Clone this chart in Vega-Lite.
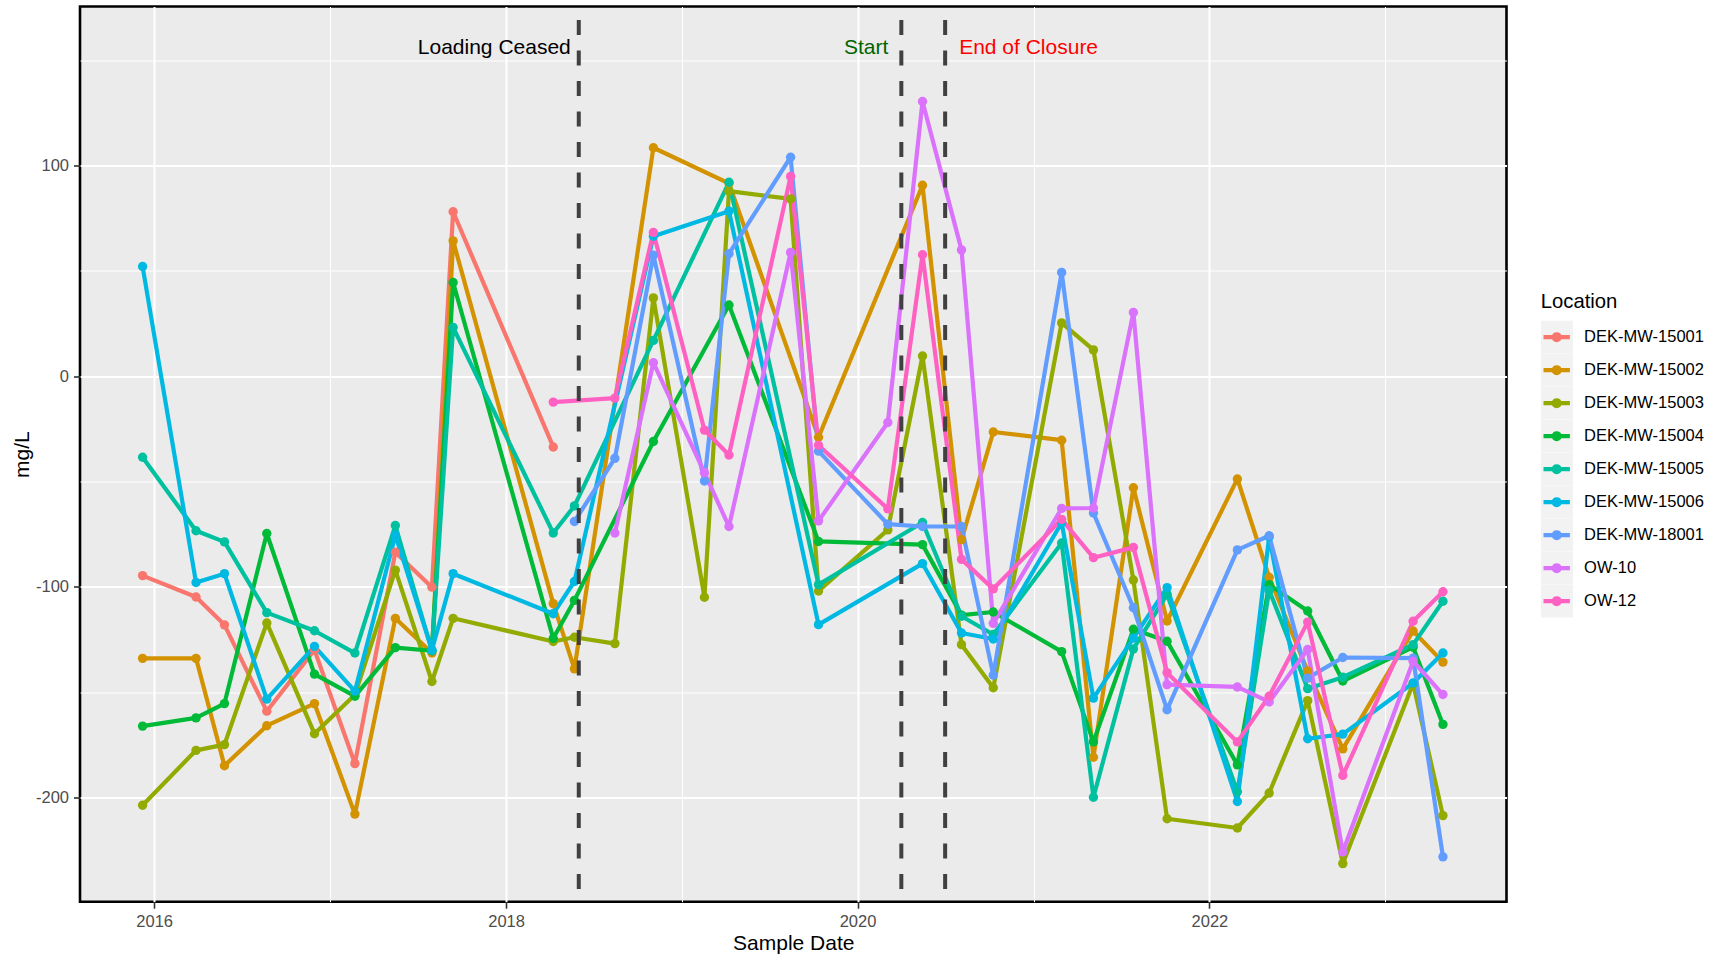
{
  "$schema": "https://vega.github.io/schema/vega-lite/v6.json",
  "width": 1426.5,
  "height": 895.2,
  "autosize": {"type": "none"},
  "padding": {"left": 80, "top": 6.5, "right": 212.5, "bottom": 56.3},
  "background": "white",
  "config": {
    "font": "Liberation Sans",
    "view": {"fill": "#EBEBEB", "stroke": "black", "strokeWidth": 2.6},
    "axis": {
      "labelFont": "Liberation Sans",
      "labelFontSize": 16.5,
      "labelColor": "#4D4D4D",
      "tickColor": "#333333",
      "tickSize": 6.5,
      "tickWidth": 1.6,
      "domain": false,
      "gridColor": "white",
      "titleFont": "Liberation Sans",
      "titleFontSize": 21,
      "titleFontWeight": "normal",
      "titleColor": "black",
      "labelOverlap": false,
      "labelFlush": false
    }
  },
  "datasets": {
    "obs": [
      {"Location": "DEK-MW-15001", "Date": "2015-12-08", "Value": -94.7},
      {"Location": "DEK-MW-15001", "Date": "2016-03-28", "Value": -104.9},
      {"Location": "DEK-MW-15001", "Date": "2016-05-26", "Value": -118.1},
      {"Location": "DEK-MW-15001", "Date": "2016-08-22", "Value": -159.1},
      {"Location": "DEK-MW-15001", "Date": "2016-11-29", "Value": -130},
      {"Location": "DEK-MW-15001", "Date": "2017-02-21", "Value": -184},
      {"Location": "DEK-MW-15001", "Date": "2017-05-16", "Value": -83.6},
      {"Location": "DEK-MW-15001", "Date": "2017-07-31", "Value": -100.2},
      {"Location": "DEK-MW-15001", "Date": "2017-09-13", "Value": 78.1},
      {"Location": "DEK-MW-15001", "Date": "2018-04-09", "Value": -33.6},

      {"Location": "DEK-MW-15002", "Date": "2015-12-08", "Value": -134},
      {"Location": "DEK-MW-15002", "Date": "2016-03-28", "Value": -134},
      {"Location": "DEK-MW-15002", "Date": "2016-05-26", "Value": -185},
      {"Location": "DEK-MW-15002", "Date": "2016-08-22", "Value": -166},
      {"Location": "DEK-MW-15002", "Date": "2016-11-29", "Value": -155.5},
      {"Location": "DEK-MW-15002", "Date": "2017-02-21", "Value": -208},
      {"Location": "DEK-MW-15002", "Date": "2017-05-16", "Value": -115},
      {"Location": "DEK-MW-15002", "Date": "2017-07-31", "Value": -131.5},
      {"Location": "DEK-MW-15002", "Date": "2017-09-13", "Value": 64.3},
      {"Location": "DEK-MW-15002", "Date": "2018-04-09", "Value": -108},
      {"Location": "DEK-MW-15002", "Date": "2018-05-23", "Value": -139},
      {"Location": "DEK-MW-15002", "Date": "2018-11-03", "Value": 108.5},
      {"Location": "DEK-MW-15002", "Date": "2019-04-09", "Value": 91.6},
      {"Location": "DEK-MW-15002", "Date": "2019-10-12", "Value": -29},
      {"Location": "DEK-MW-15002", "Date": "2020-05-15", "Value": 90.7},
      {"Location": "DEK-MW-15002", "Date": "2020-08-04", "Value": -77.7},
      {"Location": "DEK-MW-15002", "Date": "2020-10-09", "Value": -26.5},
      {"Location": "DEK-MW-15002", "Date": "2021-02-28", "Value": -30.4},
      {"Location": "DEK-MW-15002", "Date": "2021-05-05", "Value": -181},
      {"Location": "DEK-MW-15002", "Date": "2021-07-27", "Value": -53},
      {"Location": "DEK-MW-15002", "Date": "2021-10-05", "Value": -116.3},
      {"Location": "DEK-MW-15002", "Date": "2022-02-28", "Value": -48.8},
      {"Location": "DEK-MW-15002", "Date": "2022-05-05", "Value": -95.5},
      {"Location": "DEK-MW-15002", "Date": "2022-07-24", "Value": -140},
      {"Location": "DEK-MW-15002", "Date": "2022-10-05", "Value": -177},
      {"Location": "DEK-MW-15002", "Date": "2023-02-28", "Value": -121},
      {"Location": "DEK-MW-15002", "Date": "2023-05-01", "Value": -135.8},

      {"Location": "DEK-MW-15003", "Date": "2015-12-08", "Value": -203.8},
      {"Location": "DEK-MW-15003", "Date": "2016-03-28", "Value": -177.7},
      {"Location": "DEK-MW-15003", "Date": "2016-05-26", "Value": -175},
      {"Location": "DEK-MW-15003", "Date": "2016-08-22", "Value": -117.2},
      {"Location": "DEK-MW-15003", "Date": "2016-11-29", "Value": -169.8},
      {"Location": "DEK-MW-15003", "Date": "2017-02-21", "Value": -151.3},
      {"Location": "DEK-MW-15003", "Date": "2017-05-16", "Value": -92.1},
      {"Location": "DEK-MW-15003", "Date": "2017-07-31", "Value": -145},
      {"Location": "DEK-MW-15003", "Date": "2017-09-13", "Value": -115},
      {"Location": "DEK-MW-15003", "Date": "2018-04-09", "Value": -126},
      {"Location": "DEK-MW-15003", "Date": "2018-05-23", "Value": -124},
      {"Location": "DEK-MW-15003", "Date": "2018-08-15", "Value": -127},
      {"Location": "DEK-MW-15003", "Date": "2018-11-03", "Value": 37.2},
      {"Location": "DEK-MW-15003", "Date": "2019-02-17", "Value": -105},
      {"Location": "DEK-MW-15003", "Date": "2019-04-09", "Value": 87.9},
      {"Location": "DEK-MW-15003", "Date": "2019-08-15", "Value": 84.2},
      {"Location": "DEK-MW-15003", "Date": "2019-10-12", "Value": -102},
      {"Location": "DEK-MW-15003", "Date": "2020-03-04", "Value": -73},
      {"Location": "DEK-MW-15003", "Date": "2020-05-15", "Value": 9.6},
      {"Location": "DEK-MW-15003", "Date": "2020-08-04", "Value": -127.5},
      {"Location": "DEK-MW-15003", "Date": "2020-10-09", "Value": -148},
      {"Location": "DEK-MW-15003", "Date": "2021-02-28", "Value": 25.3},
      {"Location": "DEK-MW-15003", "Date": "2021-05-05", "Value": 12.5},
      {"Location": "DEK-MW-15003", "Date": "2021-07-27", "Value": -96.8},
      {"Location": "DEK-MW-15003", "Date": "2021-10-05", "Value": -210.2},
      {"Location": "DEK-MW-15003", "Date": "2022-02-28", "Value": -214.6},
      {"Location": "DEK-MW-15003", "Date": "2022-05-05", "Value": -198},
      {"Location": "DEK-MW-15003", "Date": "2022-07-24", "Value": -154.1},
      {"Location": "DEK-MW-15003", "Date": "2022-10-05", "Value": -231.5},
      {"Location": "DEK-MW-15003", "Date": "2023-02-28", "Value": -146},
      {"Location": "DEK-MW-15003", "Date": "2023-05-01", "Value": -208.7},

      {"Location": "DEK-MW-15004", "Date": "2015-12-08", "Value": -166.2},
      {"Location": "DEK-MW-15004", "Date": "2016-03-28", "Value": -162.3},
      {"Location": "DEK-MW-15004", "Date": "2016-05-26", "Value": -155.5},
      {"Location": "DEK-MW-15004", "Date": "2016-08-22", "Value": -74.7},
      {"Location": "DEK-MW-15004", "Date": "2016-11-29", "Value": -141.5},
      {"Location": "DEK-MW-15004", "Date": "2017-02-21", "Value": -152},
      {"Location": "DEK-MW-15004", "Date": "2017-05-16", "Value": -128.9},
      {"Location": "DEK-MW-15004", "Date": "2017-07-31", "Value": -130.4},
      {"Location": "DEK-MW-15004", "Date": "2017-09-13", "Value": 44.5},
      {"Location": "DEK-MW-15004", "Date": "2018-04-09", "Value": -124.5},
      {"Location": "DEK-MW-15004", "Date": "2018-05-23", "Value": -106.5},
      {"Location": "DEK-MW-15004", "Date": "2018-11-03", "Value": -31},
      {"Location": "DEK-MW-15004", "Date": "2019-04-09", "Value": 33.8},
      {"Location": "DEK-MW-15004", "Date": "2019-10-12", "Value": -78.5},
      {"Location": "DEK-MW-15004", "Date": "2020-05-15", "Value": -80},
      {"Location": "DEK-MW-15004", "Date": "2020-08-04", "Value": -113.5},
      {"Location": "DEK-MW-15004", "Date": "2020-10-09", "Value": -112},
      {"Location": "DEK-MW-15004", "Date": "2021-02-28", "Value": -130.8},
      {"Location": "DEK-MW-15004", "Date": "2021-05-05", "Value": -173.7},
      {"Location": "DEK-MW-15004", "Date": "2021-07-27", "Value": -120.2},
      {"Location": "DEK-MW-15004", "Date": "2021-10-05", "Value": -125.9},
      {"Location": "DEK-MW-15004", "Date": "2022-02-28", "Value": -184.6},
      {"Location": "DEK-MW-15004", "Date": "2022-05-05", "Value": -99},
      {"Location": "DEK-MW-15004", "Date": "2022-07-24", "Value": -111.5},
      {"Location": "DEK-MW-15004", "Date": "2022-10-05", "Value": -144.8},
      {"Location": "DEK-MW-15004", "Date": "2023-02-28", "Value": -128.7},
      {"Location": "DEK-MW-15004", "Date": "2023-05-01", "Value": -165.4},

      {"Location": "DEK-MW-15005", "Date": "2015-12-08", "Value": -38.5},
      {"Location": "DEK-MW-15005", "Date": "2016-03-28", "Value": -73.4},
      {"Location": "DEK-MW-15005", "Date": "2016-05-26", "Value": -78.7},
      {"Location": "DEK-MW-15005", "Date": "2016-08-22", "Value": -112.3},
      {"Location": "DEK-MW-15005", "Date": "2016-11-29", "Value": -120.9},
      {"Location": "DEK-MW-15005", "Date": "2017-02-21", "Value": -131.5},
      {"Location": "DEK-MW-15005", "Date": "2017-05-16", "Value": -70.9},
      {"Location": "DEK-MW-15005", "Date": "2017-07-31", "Value": -130.4},
      {"Location": "DEK-MW-15005", "Date": "2017-09-13", "Value": 23.2},
      {"Location": "DEK-MW-15005", "Date": "2018-04-09", "Value": -74.5},
      {"Location": "DEK-MW-15005", "Date": "2018-05-23", "Value": -61.6},
      {"Location": "DEK-MW-15005", "Date": "2018-11-03", "Value": 17},
      {"Location": "DEK-MW-15005", "Date": "2019-04-09", "Value": 92.1},
      {"Location": "DEK-MW-15005", "Date": "2019-10-12", "Value": -99},
      {"Location": "DEK-MW-15005", "Date": "2020-05-15", "Value": -69.5},
      {"Location": "DEK-MW-15005", "Date": "2020-08-04", "Value": -114},
      {"Location": "DEK-MW-15005", "Date": "2020-10-09", "Value": -122.7},
      {"Location": "DEK-MW-15005", "Date": "2021-02-28", "Value": -79.2},
      {"Location": "DEK-MW-15005", "Date": "2021-05-05", "Value": -200},
      {"Location": "DEK-MW-15005", "Date": "2021-07-27", "Value": -129.5},
      {"Location": "DEK-MW-15005", "Date": "2021-10-05", "Value": -103.6},
      {"Location": "DEK-MW-15005", "Date": "2022-02-28", "Value": -197.4},
      {"Location": "DEK-MW-15005", "Date": "2022-05-05", "Value": -101.6},
      {"Location": "DEK-MW-15005", "Date": "2022-07-24", "Value": -148.4},
      {"Location": "DEK-MW-15005", "Date": "2022-10-05", "Value": -143},
      {"Location": "DEK-MW-15005", "Date": "2023-02-28", "Value": -127.5},
      {"Location": "DEK-MW-15005", "Date": "2023-05-01", "Value": -106.9},

      {"Location": "DEK-MW-15006", "Date": "2015-12-08", "Value": 52.1},
      {"Location": "DEK-MW-15006", "Date": "2016-03-28", "Value": -98},
      {"Location": "DEK-MW-15006", "Date": "2016-05-26", "Value": -93.8},
      {"Location": "DEK-MW-15006", "Date": "2016-08-22", "Value": -153.4},
      {"Location": "DEK-MW-15006", "Date": "2016-11-29", "Value": -128.3},
      {"Location": "DEK-MW-15006", "Date": "2017-02-21", "Value": -149.6},
      {"Location": "DEK-MW-15006", "Date": "2017-05-16", "Value": -75.5},
      {"Location": "DEK-MW-15006", "Date": "2017-07-31", "Value": -130},
      {"Location": "DEK-MW-15006", "Date": "2017-09-13", "Value": -93.8},
      {"Location": "DEK-MW-15006", "Date": "2018-04-09", "Value": -112.8},
      {"Location": "DEK-MW-15006", "Date": "2018-05-23", "Value": -97.5},
      {"Location": "DEK-MW-15006", "Date": "2018-11-03", "Value": 66.5},
      {"Location": "DEK-MW-15006", "Date": "2019-04-09", "Value": 78.4},
      {"Location": "DEK-MW-15006", "Date": "2019-10-12", "Value": -118},
      {"Location": "DEK-MW-15006", "Date": "2020-05-15", "Value": -89},
      {"Location": "DEK-MW-15006", "Date": "2020-08-04", "Value": -122},
      {"Location": "DEK-MW-15006", "Date": "2020-10-09", "Value": -124.8},
      {"Location": "DEK-MW-15006", "Date": "2021-02-28", "Value": -69.6},
      {"Location": "DEK-MW-15006", "Date": "2021-05-05", "Value": -152.9},
      {"Location": "DEK-MW-15006", "Date": "2021-07-27", "Value": -124.4},
      {"Location": "DEK-MW-15006", "Date": "2021-10-05", "Value": -100.4},
      {"Location": "DEK-MW-15006", "Date": "2022-02-28", "Value": -202},
      {"Location": "DEK-MW-15006", "Date": "2022-05-05", "Value": -76.3},
      {"Location": "DEK-MW-15006", "Date": "2022-07-24", "Value": -172.2},
      {"Location": "DEK-MW-15006", "Date": "2022-10-05", "Value": -170},
      {"Location": "DEK-MW-15006", "Date": "2023-02-28", "Value": -145.7},
      {"Location": "DEK-MW-15006", "Date": "2023-05-01", "Value": -131.5},

      {"Location": "DEK-MW-18001", "Date": "2018-05-23", "Value": -69},
      {"Location": "DEK-MW-18001", "Date": "2018-08-15", "Value": -39},
      {"Location": "DEK-MW-18001", "Date": "2018-11-03", "Value": 57.5},
      {"Location": "DEK-MW-18001", "Date": "2019-02-17", "Value": -49.8},
      {"Location": "DEK-MW-18001", "Date": "2019-04-09", "Value": 58.2},
      {"Location": "DEK-MW-18001", "Date": "2019-08-15", "Value": 104},
      {"Location": "DEK-MW-18001", "Date": "2019-10-12", "Value": -35.6},
      {"Location": "DEK-MW-18001", "Date": "2020-03-04", "Value": -70.3},
      {"Location": "DEK-MW-18001", "Date": "2020-05-15", "Value": -71.4},
      {"Location": "DEK-MW-18001", "Date": "2020-08-04", "Value": -71.4},
      {"Location": "DEK-MW-18001", "Date": "2020-10-09", "Value": -142},
      {"Location": "DEK-MW-18001", "Date": "2021-02-28", "Value": 49.3},
      {"Location": "DEK-MW-18001", "Date": "2021-05-05", "Value": -65},
      {"Location": "DEK-MW-18001", "Date": "2021-07-27", "Value": -110},
      {"Location": "DEK-MW-18001", "Date": "2021-10-05", "Value": -158.4},
      {"Location": "DEK-MW-18001", "Date": "2022-02-28", "Value": -82.5},
      {"Location": "DEK-MW-18001", "Date": "2022-05-05", "Value": -75.8},
      {"Location": "DEK-MW-18001", "Date": "2022-07-24", "Value": -143.4},
      {"Location": "DEK-MW-18001", "Date": "2022-10-05", "Value": -133.6},
      {"Location": "DEK-MW-18001", "Date": "2023-02-28", "Value": -133.9},
      {"Location": "DEK-MW-18001", "Date": "2023-05-01", "Value": -228.3},

      {"Location": "OW-10", "Date": "2018-08-15", "Value": -74.5},
      {"Location": "OW-10", "Date": "2018-11-03", "Value": 6.4},
      {"Location": "OW-10", "Date": "2019-02-17", "Value": -45.8},
      {"Location": "OW-10", "Date": "2019-04-09", "Value": -71.4},
      {"Location": "OW-10", "Date": "2019-08-15", "Value": 58.8},
      {"Location": "OW-10", "Date": "2019-10-12", "Value": -68.7},
      {"Location": "OW-10", "Date": "2020-03-04", "Value": -22},
      {"Location": "OW-10", "Date": "2020-05-15", "Value": 130.5},
      {"Location": "OW-10", "Date": "2020-08-04", "Value": 60},
      {"Location": "OW-10", "Date": "2020-10-09", "Value": -117.4},
      {"Location": "OW-10", "Date": "2021-02-28", "Value": -62.8},
      {"Location": "OW-10", "Date": "2021-05-05", "Value": -62.6},
      {"Location": "OW-10", "Date": "2021-07-27", "Value": 30.3},
      {"Location": "OW-10", "Date": "2021-10-05", "Value": -146.5},
      {"Location": "OW-10", "Date": "2022-02-28", "Value": -147.6},
      {"Location": "OW-10", "Date": "2022-05-05", "Value": -154.7},
      {"Location": "OW-10", "Date": "2022-07-24", "Value": -129.8},
      {"Location": "OW-10", "Date": "2022-10-05", "Value": -226},
      {"Location": "OW-10", "Date": "2023-02-28", "Value": -135.4},
      {"Location": "OW-10", "Date": "2023-05-01", "Value": -151.2},

      {"Location": "OW-12", "Date": "2018-04-09", "Value": -12.3},
      {"Location": "OW-12", "Date": "2018-08-15", "Value": -10.4},
      {"Location": "OW-12", "Date": "2018-11-03", "Value": 68.3},
      {"Location": "OW-12", "Date": "2019-02-17", "Value": -25.6},
      {"Location": "OW-12", "Date": "2019-04-09", "Value": -37.4},
      {"Location": "OW-12", "Date": "2019-08-15", "Value": 94.9},
      {"Location": "OW-12", "Date": "2019-10-12", "Value": -32.8},
      {"Location": "OW-12", "Date": "2020-03-04", "Value": -63},
      {"Location": "OW-12", "Date": "2020-05-15", "Value": 57.7},
      {"Location": "OW-12", "Date": "2020-08-04", "Value": -87},
      {"Location": "OW-12", "Date": "2020-10-09", "Value": -101},
      {"Location": "OW-12", "Date": "2021-02-28", "Value": -68},
      {"Location": "OW-12", "Date": "2021-05-05", "Value": -86.2},
      {"Location": "OW-12", "Date": "2021-07-27", "Value": -81.3},
      {"Location": "OW-12", "Date": "2021-10-05", "Value": -140.8},
      {"Location": "OW-12", "Date": "2022-02-28", "Value": -173.7},
      {"Location": "OW-12", "Date": "2022-05-05", "Value": -152},
      {"Location": "OW-12", "Date": "2022-07-24", "Value": -116.8},
      {"Location": "OW-12", "Date": "2022-10-05", "Value": -189.6},
      {"Location": "OW-12", "Date": "2023-02-28", "Value": -116.4},
      {"Location": "OW-12", "Date": "2023-05-01", "Value": -102.4}
    ],
    "events": [
      {"Event": "Loading Ceased", "Date": "2018-06-01"},
      {"Event": "Start", "Date": "2020-04-01"},
      {"Event": "End of Closure", "Date": "2020-07-01"}
    ]
  },
  "layer": [
    {
      "data": {"name": "obs"},
      "mark": {"type": "line", "strokeWidth": 4.2, "strokeCap": "butt", "strokeJoin": "round"},
      "encoding": {
        "x": {
          "field": "Date",
          "type": "temporal",
          "title": "Sample Date",
          "scale": {
            "type": "utc",
            "domain": [
              {"year": 2015, "month": 7, "date": 31, "utc": true},
              {"year": 2023, "month": 9, "date": 10, "utc": true}
            ],
            "nice": false
          },
          "axis": {
            "values": [
              {"year": 2016, "month": 1, "date": 1, "utc": true},
              {"year": 2017, "month": 1, "date": 1, "utc": true},
              {"year": 2018, "month": 1, "date": 1, "utc": true},
              {"year": 2019, "month": 1, "date": 1, "utc": true},
              {"year": 2020, "month": 1, "date": 1, "utc": true},
              {"year": 2021, "month": 1, "date": 1, "utc": true},
              {"year": 2022, "month": 1, "date": 1, "utc": true},
              {"year": 2023, "month": 1, "date": 1, "utc": true}
            ],
            "labelExpr": "utcyear(datum.value) % 2 === 0 ? utcFormat(datum.value, '%Y') : ''",
            "grid": true,
            "gridWidth": {"condition": {"test": "utcyear(datum.value) % 2 === 0", "value": 2}, "value": 1},
            "tickOpacity": {"condition": {"test": "utcyear(datum.value) % 2 === 0", "value": 1}, "value": 0},
            "labelPadding": 5,
            "titleBaseline": "alphabetic",
            "titleY": 47.6
          }
        },
        "y": {
          "field": "Value",
          "type": "quantitative",
          "title": "mg/L",
          "scale": {"domain": [-249.6, 175.6], "nice": false, "zero": false},
          "axis": {
            "values": [-200, -150, -100, -50, 0, 50, 100, 150],
            "labelExpr": "datum.value % 100 === 0 ? toString(datum.value) : ''",
            "grid": true,
            "gridWidth": {"condition": {"test": "datum.value % 100 === 0", "value": 2}, "value": 1},
            "tickOpacity": {"condition": {"test": "datum.value % 100 === 0", "value": 1}, "value": 0},
            "labelPadding": 5,
            "titleBaseline": "middle",
            "titleX": -57.6
          }
        },
        "color": {
          "field": "Location",
          "type": "nominal",
          "scale": {
            "domain": ["DEK-MW-15001", "DEK-MW-15002", "DEK-MW-15003", "DEK-MW-15004", "DEK-MW-15005", "DEK-MW-15006", "DEK-MW-18001", "OW-10", "OW-12"],
            "range": ["#F8766D", "#D39200", "#93AA00", "#00BA38", "#00C19F", "#00B9E3", "#619CFF", "#DB72FB", "#FF61C3"]
          },
          "legend": {
            "title": "Location",
            "orient": "none",
            "legendX": 1457.7,
            "legendY": 285.5,
            "padding": 0,
            "titleFont": "Liberation Sans",
            "titleFontSize": 20.3,
            "titleFontWeight": "normal",
            "titleColor": "black",
            "titlePadding": 8.5,
            "labelFont": "Liberation Sans",
            "labelFontSize": 16.5,
            "labelColor": "black",
            "labelOffset": 8.4,
            "symbolType": "M-0.8,0L0.8,0M-0.18,0A0.18,0.18,0,1,0,0.18,0A0.18,0.18,0,1,0,-0.18,0Z",
            "symbolSize": 1089,
            "symbolStrokeWidth": 4.2,
            "clipHeight": 32.8,
            "rowPadding": 0,
            "encode": {
              "title": {
                "update": {"dx": {"value": 3}}
              },
              "symbols": {
                "update": {
                  "fill": {"scale": "color", "field": "value"},
                  "stroke": {"scale": "color", "field": "value"},
                  "strokeWidth": {"value": 4.2},
                  "opacity": {"value": 1}
                }
              },
              "entries": {
                "update": {
                  "fill": {
                    "value": {
                      "gradient": "linear",
                      "x1": 0, "y1": 0, "x2": 1, "y2": 0,
                      "stops": [
                        {"offset": 0, "color": "rgba(255,255,255,0)"},
                        {"offset": 0.018, "color": "rgba(255,255,255,0)"},
                        {"offset": 0.018, "color": "#F2F2F2"},
                        {"offset": 0.215, "color": "#F2F2F2"},
                        {"offset": 0.215, "color": "rgba(255,255,255,0)"},
                        {"offset": 1, "color": "rgba(255,255,255,0)"}
                      ]
                    }
                  }
                }
              }
            }
          }
        },
        "order": {"field": "Date", "type": "temporal"}
      }
    },
    {
      "data": {"name": "obs"},
      "mark": {"type": "point", "filled": true, "size": 88, "opacity": 1},
      "encoding": {
        "x": {"field": "Date", "type": "temporal"},
        "y": {"field": "Value", "type": "quantitative"},
        "color": {"field": "Location", "type": "nominal"}
      }
    },
    {
      "data": {"name": "events"},
      "mark": {"type": "rule", "color": "#404040", "strokeWidth": 4, "strokeDash": [15, 15.5], "strokeDashOffset": 17},
      "encoding": {
        "x": {"field": "Date", "type": "temporal"}
      }
    },
    {
      "data": {"values": [{"Date": "2018-06-01", "Value": 156, "Label": "Loading Ceased"}]},
      "mark": {"type": "text", "align": "right", "baseline": "middle", "dx": -8, "fontSize": 21, "font": "Liberation Sans", "color": "black"},
      "encoding": {
        "x": {"field": "Date", "type": "temporal"},
        "y": {"field": "Value", "type": "quantitative"},
        "text": {"field": "Label"}
      }
    },
    {
      "data": {"values": [{"Date": "2020-04-01", "Value": 156, "Label": "Start"}]},
      "mark": {"type": "text", "align": "right", "baseline": "middle", "dx": -13, "fontSize": 21, "font": "Liberation Sans", "color": "#006400"},
      "encoding": {
        "x": {"field": "Date", "type": "temporal"},
        "y": {"field": "Value", "type": "quantitative"},
        "text": {"field": "Label"}
      }
    },
    {
      "data": {"values": [{"Date": "2020-07-01", "Value": 156, "Label": "End of Closure"}]},
      "mark": {"type": "text", "align": "left", "baseline": "middle", "dx": 14, "fontSize": 21, "font": "Liberation Sans", "color": "#FF0000"},
      "encoding": {
        "x": {"field": "Date", "type": "temporal"},
        "y": {"field": "Value", "type": "quantitative"},
        "text": {"field": "Label"}
      }
    }
  ]
}
